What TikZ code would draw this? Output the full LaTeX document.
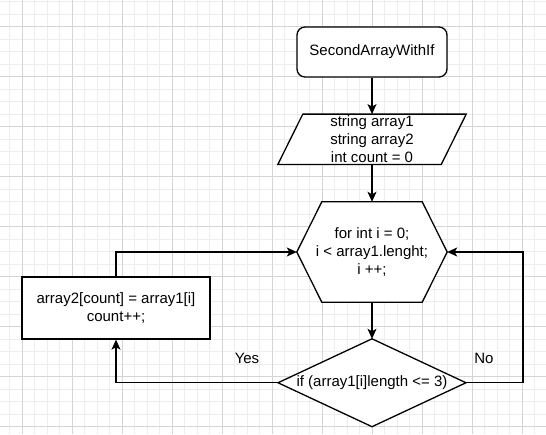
\documentclass[tikz,border=0pt]{standalone}
\usepackage{fontspec}
\setmainfont{Liberation Sans}
\usetikzlibrary{arrows.meta,calc}
\begin{document}
\begin{tikzpicture}[x=1pt,y=-1pt,
  every node/.style={font=\fontsize{15}{18}\selectfont, align=center, inner sep=0pt, text=black},
  minorgrid/.style={draw=black!7, line width=0.7pt},
  majorgrid/.style={draw=black!17, line width=0.8pt},
  ln/.style={line width=1.3pt, draw=black},
  boxed/.style={draw=black, line width=1.3pt},
  conn/.style={line width=1.3pt, draw=black, -{Stealth[length=10pt,width=9pt,inset=2.5pt]}},
]
\useasboundingbox (0,0) rectangle (546,434);
\fill[white] (0,0) rectangle (546,434);
% background grid
\foreach \i in {-1,...,42} \draw[minorgrid] ({22+12.5*\i},0) -- ({22+12.5*\i},434);
\foreach \j in {-2,...,33} \draw[minorgrid] (0,{26.5+12.5*\j}) -- (546,{26.5+12.5*\j});
\foreach \i in {0,...,10} \draw[majorgrid] ({22+50*\i},0) -- ({22+50*\i},434);
\foreach \j in {0,...,8} \draw[majorgrid] (0,{26.5+50*\j}) -- (546,{26.5+50*\j});

% nodes
\node[boxed, fill=white, rounded corners=8pt, minimum width=150, minimum height=50] (start) at (372,52) {SecondArrayWithIf};

\node[minimum width=188, minimum height=50] (input) at (372,139.3) {};
\filldraw[ln, fill=white] (input.south west) -- ($(input.north west)+(25,0)$) -- (input.north east) -- ($(input.south east)+(-25,0)$) -- cycle;
\node at (input.center) {string array1\\string array2\\int count = 0};

\node[minimum width=150, minimum height=100] (loop) at (372,252) {};
\filldraw[ln, fill=white] (loop.west) -- ($(loop.north west)+(25,0)$) -- ($(loop.north east)+(-25,0)$) -- (loop.east) -- ($(loop.south east)+(-25,0)$) -- ($(loop.south west)+(25,0)$) -- cycle;
\node at (loop.center) {for int i = 0;\\i < array1.lenght;\\i ++;};

\node[minimum width=187.5, minimum height=87.5] (cond) at (372,382.75) {};
\filldraw[ln, fill=white] (cond.north) -- (cond.east) -- (cond.south) -- (cond.west) -- cycle;
\node at (cond.center) {if (array1[i]length <= 3)};

\node[boxed, fill=white, minimum width=188, minimum height=62] (proc) at (116,308) {array2[count] = array1[i]\\count++;};

\coordinate (noturn) at (523,382.75);

% connectors
\draw[conn] (start) -- (input);
\draw[conn] (input) -- (loop);
\draw[conn] (loop) -- (cond);
\draw[conn] (cond.west) -| (proc.south);
\draw[conn] (proc.north) |- (loop.west);
\draw[conn] (cond.east) -- (noturn) |- (loop.east);

% labels
\node (yes) at (247,358) {Yes};
\node (no) at (484,358) {No};
\end{tikzpicture}
\end{document}
